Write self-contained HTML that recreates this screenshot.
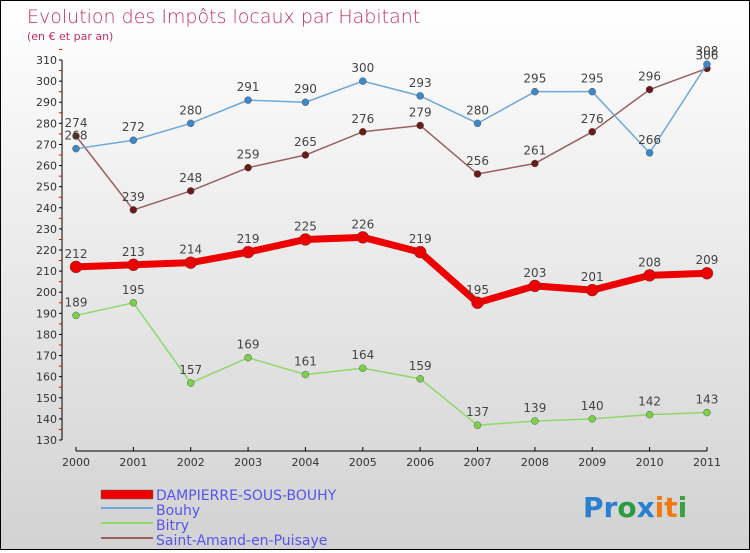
<!DOCTYPE html>
<html><head><meta charset="utf-8"><style>
body{margin:0}
#c{width:748px;height:548px;border:1px solid #000;background:linear-gradient(#fff,#d2d2d2);position:relative;font-family:"DejaVu Sans","Liberation Sans",sans-serif}
</style></head><body>
<div id="c">
<svg width="748" height="548" id="s">
<text x="26" y="22" font-size="19" fill="#c0306a" font-weight="200">Evolution des Impôts locaux par Habitant</text>
<text x="26" y="39" font-size="11" fill="#c0306a">(en € et par an)</text>
<g id="axes"></g><g id="series"></g>
<g>
<rect x="100" y="489" width="52" height="9" fill="#e00" stroke="#666" stroke-width="0.5"/>
<text x="155" y="499" font-size="14" fill="#5555ee">DAMPIERRE-SOUS-BOUHY</text>
<line x1="100" y1="507" x2="152" y2="507" stroke="#6fa8d8" stroke-width="2"/>
<text x="155" y="514" font-size="14" fill="#5555ee">Bouhy</text>
<line x1="100" y1="522" x2="152" y2="522" stroke="#8fd86a" stroke-width="2"/>
<text x="155" y="529" font-size="14" fill="#5555ee">Bitry</text>
<line x1="100" y1="537" x2="152" y2="537" stroke="#9a6060" stroke-width="2"/>
<text x="155" y="544" font-size="14" fill="#5555ee">Saint-Amand-en-Puisaye</text>
</g>
<text x="582" y="516" font-size="28" font-weight="bold"><tspan fill="#2a7fd0">Pr</tspan><tspan fill="#2a9a40">o</tspan><tspan fill="#2a7fd0">x</tspan><tspan fill="#f07a10">it</tspan><tspan fill="#3aa040">i</tspan></text>
</svg></div>
<script>
const years=[2000,2001,2002,2003,2004,2005,2006,2007,2008,2009,2010,2011];
const dampierre=[212,213,214,219,225,226,219,195,203,201,208,209];
const bouhy=[268,272,280,291,290,300,293,280,295,295,266,308];
const bitry=[189,195,157,169,161,164,159,137,139,140,142,143];
const saintAmand=[274,239,248,259,265,276,279,256,261,276,296,306];
const yTicks=[130,140,150,160,170,180,190,200,210,220,230,240,250,260,270,280,290,300,310];
const NS="http://www.w3.org/2000/svg";
const X=i=>75+i*57.36, Y=v=>439-(v-130)*2.111;
function mk(t,a,p){const e=document.createElementNS(NS,t);for(const k in a)e.setAttribute(k,a[k]);p.appendChild(e);return e;}
const ax=document.getElementById('axes'),sg=document.getElementById('series');
let yl=mk('line',{x1:61,y1:Y(310),x2:61,y2:Y(130),stroke:'#000'},ax);

yTicks.forEach(v=>{mk('line',{x1:58,y1:Y(v),x2:61,y2:Y(v),stroke:'#000'},ax);
 mk('line',{x1:58,y1:Y(v+5),x2:61,y2:Y(v+5),stroke:'#e00'},ax);
 const t=mk('text',{x:56,y:Y(v)+4,'font-size':11,'text-anchor':'end',fill:'#333'},ax);t.textContent=v;
 });
let xl=mk('line',{x1:X(0),y1:450,x2:X(11),y2:450,stroke:'#000'},ax);

years.forEach((y,i)=>{mk('line',{x1:X(i),y1:446,x2:X(i),y2:450,stroke:'#000'},ax);
 const t=mk('text',{x:X(i),y:465,'font-size':11,'text-anchor':'middle',fill:'#333'},ax);t.textContent=y;
 });
function series(d,col,dot,w,r,name){
 const g=mk('g',{},sg);
 mk('polyline',{points:d.map((v,i)=>X(i)+','+Y(v)).join(' '),fill:'none',stroke:col,'stroke-width':w,'stroke-linejoin':'round'},g);
 d.forEach((v,i)=>{const c=mk('circle',{cx:X(i),cy:Y(v),r:r,fill:dot,stroke:'#444','stroke-width':0.4},g);
  
  const t=mk('text',{x:X(i),y:Y(v)-9,'font-size':12,'text-anchor':'middle',fill:'#444'},g);t.textContent=v;
  });
}
series(bitry,'#8fd86a','#7ccf4a',1.5,3.5,'bitry-series');
series(saintAmand,'#9a6060','#6a1a1a',1.5,3.5,'saint-amand-series');
series(bouhy,'#6fa8d8','#3d88c8',1.5,3.5,'bouhy-series');
series(dampierre,'#ee0000','#ee0000',7,6,'dampierre-series');
</script></body></html>
